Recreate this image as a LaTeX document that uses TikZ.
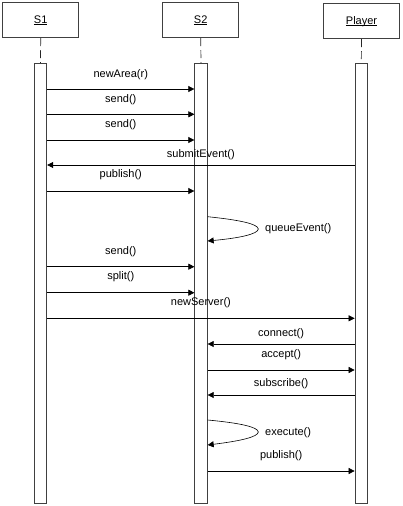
\documentclass[tikz,border=0pt]{standalone}
\usepackage{fontspec}
\setmainfont{Liberation Sans}
\usetikzlibrary{arrows.meta}
\newcommand\myul[1]{\setbox0\hbox{#1}\rlap{\rule[-1.6pt]{\wd0}{0.6pt}}\box0}
\begin{document}
\begin{tikzpicture}[x=1pt,y=-1pt,
  box/.style={draw=black!75, line width=0.8pt, minimum width=76pt, minimum height=35pt, inner sep=0pt, fill=white, font=\fontsize{11pt}{13pt}\selectfont},
  bar/.style={draw=black!75, line width=0.8pt, minimum width=12.5pt, minimum height=440pt, inner sep=0pt, fill=white},
  life/.style={draw=black!85, dash pattern=on 8pt off 4pt, line width=0.7pt},
  msg/.style={draw=black, line width=0.6pt, -{Triangle[length=6pt,width=6pt]}},
  lbl/.style={font=\fontsize{11pt}{13pt}\selectfont, inner sep=0pt},
]
\useasboundingbox (0,0) rectangle (402,506);
% lifeline heads
\node[box] (S1) at (40.7,20.2) {\myul{S1}};
\node[box] (S2) at (200.7,20.2) {\myul{S2}};
\node[box] (P)  at (361.5,21.3) {\myul{Player}};
% activation bars
\node[bar] (B1) at (40.5,283.3) {};
\node[bar] (B2) at (201,283.3) {};
\node[bar] (B3) at (361.3,283.3) {};
% dashed lifelines
\draw[life] (S1.south) -- (B1.north);
\draw[life] (S2.south) -- (B2.north);
\draw[life] (P.south) -- (B3.north);
% messages
\draw[msg] (B1.east |- 0,89) -- node[lbl, yshift=14pt] (m1) {newArea(r)} (B2.west |- 0,89);
\draw[msg] (B1.east |- 0,114.3) -- node[lbl, yshift=15pt] (m2) {send()} (B2.west |- 0,114.3);
\draw[msg] (B1.east |- 0,140) -- node[lbl, yshift=15pt] (m3) {send()} (B2.west |- 0,140);
\draw[msg] (B3.west |- 0,165) -- node[lbl, yshift=10pt] (m4) {submitEvent()} (B1.east |- 0,165);
\draw[msg] (B1.east |- 0,191) -- node[lbl, yshift=16pt] (m5) {publish()} (B2.west |- 0,191);
% self call queueEvent
\draw[msg] (B2.east |- 0,216.7) .. controls (240,220) and (258,224) .. (258.3,229)
  .. controls (258,234) and (240,238) .. (B2.east |- 0,241);
\node[lbl, anchor=west] (m6) at (265,229) {queueEvent()};
\draw[msg] (B1.east |- 0,266.7) -- node[lbl, yshift=15pt] (m7) {send()} (B2.west |- 0,266.7);
\draw[msg] (B1.east |- 0,292.7) -- node[lbl, yshift=16pt] (m8) {split()} (B2.west |- 0,292.7);
\draw[msg] (B1.east |- 0,318.3) -- node[lbl, yshift=15.6pt] (m9) {newServer()} (B3.west |- 0,318.3);
\draw[msg] (B3.west |- 0,344) -- node[lbl, yshift=10.7pt] (m10) {connect()} (B2.east |- 0,344);
\draw[msg] (B2.east |- 0,370) -- node[lbl, yshift=15.7pt] (m11) {accept()} (B3.west |- 0,370);
\draw[msg] (B3.west |- 0,395) -- node[lbl, yshift=11pt] (m12) {subscribe()} (B2.east |- 0,395);
% self call execute
\draw[msg] (B2.east |- 0,420) .. controls (240,423) and (258,427) .. (258.3,432)
  .. controls (258,437) and (240,441) .. (B2.east |- 0,445);
\node[lbl, anchor=west] (m13) at (265,432.3) {execute()};
\draw[msg] (B2.east |- 0,471) -- node[lbl, yshift=15.3pt] (m14) {publish()} (B3.west |- 0,471);
\end{tikzpicture}
\end{document}
